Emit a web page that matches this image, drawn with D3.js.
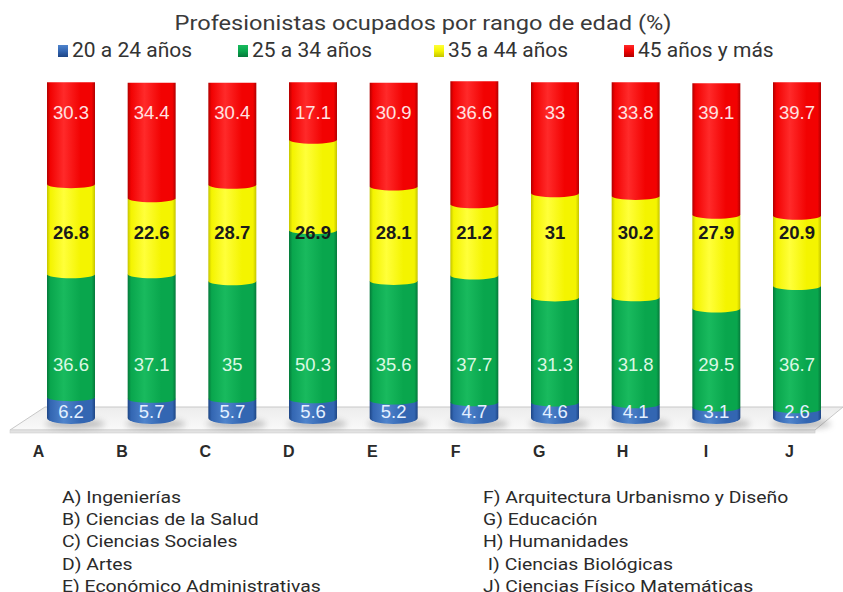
<!DOCTYPE html>
<html>
<head>
<meta charset="utf-8">
<script src="https://cdn.jsdelivr.net/npm/d3@7"></script>
<style>
  html, body { margin: 0; padding: 0; background: #ffffff; }
  svg { display: block; }
</style>
</head>
<body>
<svg id="chart" width="843" height="592"></svg>
<script>
// ---- data -------------------------------------------------------------
const categories = ["A", "B", "C", "D", "E", "F", "G", "H", "I", "J"];
const fieldNames = [
  "A) Ingenierías",
  "B) Ciencias de la Salud",
  "C) Ciencias Sociales",
  "D) Artes",
  "E) Económico Administrativas",
  "F) Arquitectura Urbanismo y Diseño",
  "G) Educación",
  "H) Humanidades",
  " I) Ciencias Biológicas",
  "J) Ciencias Físico Matemáticas"
];
const seriesNames = ["20 a 24 años", "25 a 34 años", "35 a 44 años", "45 años y más"];
const age20to24 = [6.2, 5.7, 5.7, 5.6, 5.2, 4.7, 4.6, 4.1, 3.1, 2.6];
const age25to34 = [36.6, 37.1, 35, 50.3, 35.6, 37.7, 31.3, 31.8, 29.5, 36.7];
const age35to44 = [26.8, 22.6, 28.7, 26.9, 28.1, 21.2, 31, 30.2, 27.9, 20.9];
const age45plus = [30.3, 34.4, 30.4, 17.1, 30.9, 36.6, 33, 33.8, 39.1, 39.7];
const yTicks = [0, 100];
const titleText = "Profesionistas ocupados por rango de edad (%)";

// ---- styling ----------------------------------------------------------
const palette = [
  { base: "#3366b2", dark: "#1d4584", light: "#4f84cc", text: "#e4f0ff" },
  { base: "#09a64d", dark: "#05783a", light: "#19ba5e", text: "#dcf8e4" },
  { base: "#f4f400", dark: "#c4c400", light: "#ffff3a", text: "#1a1a1a" },
  { base: "#f20202", dark: "#b00000", light: "#ff2a2a", text: "#ffe2e2" }
];
// vertical rows where the value labels sit for each series
const labelRowY = [412, 365, 233, 113];
const uiFont = "Roboto, 'Noto Sans', sans-serif";

const svg = d3.select("#chart");
const defs = svg.append("defs");

palette.forEach((c, i) => {
  const g = defs.append("linearGradient")
    .attr("id", "cyl" + i)
    .attr("x1", 0).attr("x2", 1).attr("y1", 0).attr("y2", 0);
  [[0, c.dark], [0.07, c.base], [0.35, c.light], [0.7, c.base], [0.93, c.base], [1, c.dark]]
    .forEach(([o, col]) => g.append("stop").attr("offset", o).attr("stop-color", col));
  const lg = defs.append("linearGradient")
    .attr("id", "leg" + i)
    .attr("x1", 0).attr("x2", 0).attr("y1", 0).attr("y2", 1);
  [[0, c.light], [0.5, c.base], [1, c.dark]]
    .forEach(([o, col]) => lg.append("stop").attr("offset", o).attr("stop-color", col));
});
const floorGrad = defs.append("linearGradient")
  .attr("id", "floorGrad").attr("x1", 0).attr("x2", 0).attr("y1", 0).attr("y2", 1);
floorGrad.append("stop").attr("offset", 0).attr("stop-color", "#ececec");
floorGrad.append("stop").attr("offset", 1).attr("stop-color", "#fafafa");
defs.append("filter").attr("id", "soft")
  .attr("x", "-50%").attr("y", "-50%").attr("width", "200%").attr("height", "200%")
  .append("feGaussianBlur").attr("stdDeviation", 3);

// ---- scales -----------------------------------------------------------
const x = d3.scaleBand().domain(categories).range([47, 821])
  .paddingInner(0.405).paddingOuter(0);
const y = d3.scaleLinear().domain(d3.extent(yTicks)).range([418, 82]);
const xLetters = d3.scalePoint().domain(categories).range([38, 789]);

// ---- title & legend ---------------------------------------------------
svg.append("text")
  .attr("x", 423).attr("y", 30)
  .attr("text-anchor", "middle")
  .attr("font-family", uiFont)
  .attr("font-size", 21)
  .attr("fill", "#3a3a3a")
  .attr("textLength", 497)
  .attr("lengthAdjust", "spacingAndGlyphs")
  .text(titleText);

const legendX = [58, 238, 434, 624];
const legend = svg.append("g").attr("class", "legend");
seriesNames.forEach((name, i) => {
  const g = legend.append("g").attr("transform", `translate(${legendX[i]},45)`);
  g.append("rect").attr("width", 10).attr("height", 12)
    .attr("fill", `url(#leg${i})`);
  g.append("text").attr("x", 14).attr("y", 12)
    .attr("font-family", uiFont)
    .attr("font-size", 21)
    .attr("fill", "#333")
    .text(name);
});

// ---- floor ------------------------------------------------------------
const floor = svg.append("g").attr("class", "floor");
floor.append("polygon")
  .attr("points", "45,407 843,407 815,430 10,430")
  .attr("fill", "url(#floorGrad)")
  .attr("stroke", "#c8c8c8").attr("stroke-width", 1);
floor.append("rect")
  .attr("x", 10).attr("y", 430).attr("width", 805).attr("height", 3)
  .attr("fill", "#e2e2e2").attr("stroke", "#cfcfcf").attr("stroke-width", 0.6);

// bar shadows on the floor
floor.selectAll("ellipse.shadow")
  .data(categories)
  .join("ellipse")
  .attr("class", "shadow")
  .attr("cx", d => x(d) + x.bandwidth() / 2 + 4)
  .attr("cy", y(0) + 6)
  .attr("rx", x.bandwidth() / 2 + 6)
  .attr("ry", 5)
  .attr("fill", "#555")
  .attr("opacity", 0.35)
  .attr("filter", "url(#soft)");

// ---- stacked cylinders ------------------------------------------------
const rows = categories.map((c, i) => ({
  cat: c,
  [seriesNames[0]]: age20to24[i],
  [seriesNames[1]]: age25to34[i],
  [seriesNames[2]]: age35to44[i],
  [seriesNames[3]]: age45plus[i]
}));
const stacked = d3.stack().keys(seriesNames)(rows);

const bw = x.bandwidth();
function segmentPath(x0, yTop, yBot, bulge) {
  const r = bw / 2;
  return `M${x0},${yTop} L${x0},${yBot} A${r},${bulge} 0 0 0 ${x0 + bw},${yBot} L${x0 + bw},${yTop} Z`;
}

const bars = svg.append("g").attr("class", "bars");
stacked.forEach((layer, si) => {
  bars.append("g")
    .selectAll("path")
    .data(layer)
    .join("path")
    .attr("d", d => segmentPath(x(d.data.cat), y(d[1]), y(d[0]), si === 0 ? 6 : 4))
    .attr("fill", `url(#cyl${si})`);
});

// value labels
const labels = svg.append("g").attr("class", "values");
stacked.forEach((layer, si) => {
  labels.append("g")
    .selectAll("text")
    .data(layer)
    .join("text")
    .attr("x", d => x(d.data.cat) + bw / 2)
    .attr("y", labelRowY[si])
    .attr("dy", "0.35em")
    .attr("text-anchor", "middle")
    .attr("font-family", "'Liberation Sans', Arial, sans-serif")
    .attr("font-size", 18.5)
    .attr("font-weight", si === 2 ? "bold" : "normal")
    .attr("fill", palette[si].text)
    .text(d => d.data[layer.key]);
});

// ---- category axis ----------------------------------------------------
const axis = svg.append("g")
  .attr("transform", "translate(0,446)")
  .call(d3.axisBottom(xLetters).tickSize(0).tickPadding(0));
axis.select(".domain").remove();
axis.selectAll("text")
  .attr("font-family", "'Liberation Sans', Arial, sans-serif")
  .attr("font-size", 16)
  .attr("font-weight", "bold")
  .attr("fill", "#2a2a2a");

// ---- field notes ------------------------------------------------------
const notes = svg.append("g").attr("class", "notes")
  .attr("font-family", uiFont)
  .attr("font-size", 17)
  .attr("fill", "#2a2a2a");
fieldNames.forEach((name, i) => {
  const col = i < 5 ? 0 : 1;
  const row = i % 5;
  const t = notes.append("text")
    .attr("x", col === 0 ? 62 : 483)
    .attr("y", 503 + row * 22.2)
    .style("white-space", "pre")
    .text(name);
  // the notes are set slightly wide
  const w = t.node().getComputedTextLength();
  t.attr("textLength", w * 1.14).attr("lengthAdjust", "spacingAndGlyphs");
});
</script>
</body>
</html>
